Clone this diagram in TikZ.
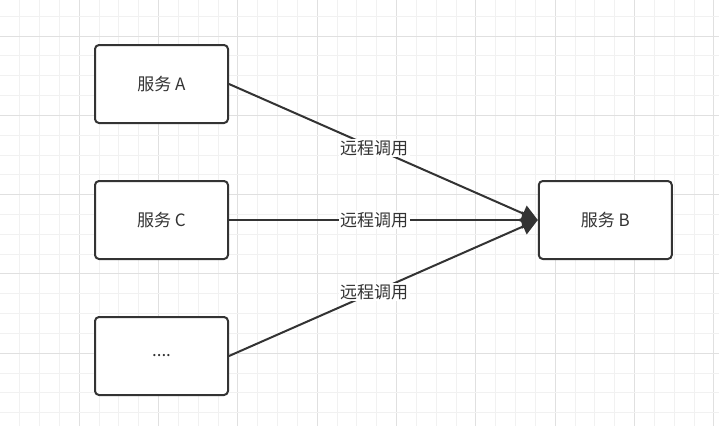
\documentclass[tikz,border=0pt]{standalone}
\usepackage{fontspec}
\setmainfont{Noto Sans CJK SC}
\usetikzlibrary{arrows.meta}

\definecolor{boxline}{HTML}{333333}
\definecolor{gridminor}{HTML}{F1F1F1}
\definecolor{gridmajor}{HTML}{E0E0E0}

\tikzset{
  svcbox/.style={draw=boxline, line width=2pt, rounded corners=4pt, fill=white,
    minimum width=133pt, minimum height=78pt, inner sep=0pt, text=boxline,
    font=\fontsize{17}{20}\selectfont},
  callline/.style={draw=boxline, line width=2pt, -{Triangle[length=16pt, width=17pt]}},
  calllabel/.style={fill=white, inner sep=1.5pt, text=boxline,
    font=\fontsize{17}{20}\selectfont},
}

\begin{document}
\begin{tikzpicture}[x=1pt, y=-1pt, line join=round]
    \useasboundingbox (0,0) rectangle (719,426);
    \fill[white] (0,0) rectangle (719,426);

    % background grid, every fourth line darker
    \foreach \k in {1,...,36} {
        \pgfmathsetmacro{\gx}{19.83*\k}
        \pgfmathtruncatemacro{\gm}{mod(\k,4)}
        \ifnum\gm=0
            \draw[gridmajor, line width=1pt] (\gx,0) -- (\gx,426);
        \else
            \draw[gridminor, line width=1pt] (\gx,0) -- (\gx,426);
        \fi
    }
    \foreach \k in {0,...,20} {
        \pgfmathsetmacro{\gy}{16.2+19.83*\k}
        \pgfmathtruncatemacro{\gm}{mod(\k,4)}
        \ifnum\gm=1
            \draw[gridmajor, line width=1pt] (0,\gy) -- (719,\gy);
        \else
            \draw[gridminor, line width=1pt] (0,\gy) -- (719,\gy);
        \fi
    }

    % services
    \node[svcbox] (svcA) at (161.5, 84) {服务 A};
    \node[svcbox] (svcC) at (161.5, 220) {服务 C};
    \node[svcbox] (svcX) at (161.5, 356) {....};
    \node[svcbox] (svcB) at (605.3, 220) {服务 B};

    % remote calls into B
    \draw[callline] (svcA.east) -- node[calllabel, pos=0.47] {远程调用} (svcB.west);
    \draw[callline] (svcC.east) -- node[calllabel, pos=0.47] {远程调用} (svcB.west);
    \draw[callline] (svcX.east) -- node[calllabel, pos=0.47] {远程调用} (svcB.west);
\end{tikzpicture}
\end{document}
